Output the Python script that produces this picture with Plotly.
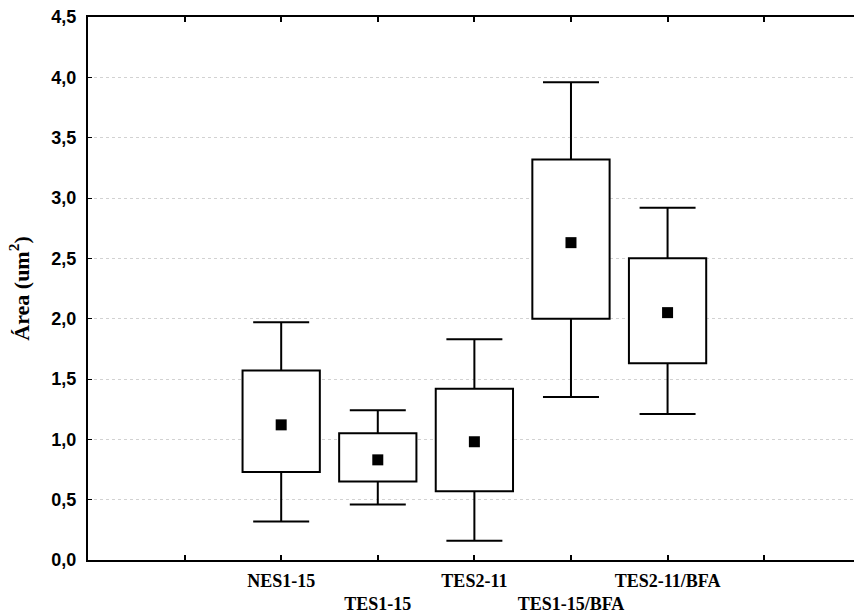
import plotly.graph_objects as go

categories = ["NES1-15", "TES1-15", "TES2-11", "TES1-15/BFA", "TES2-11/BFA"]
means = [1.12, 0.83, 0.98, 2.63, 2.05]
box_low = [0.73, 0.65, 0.57, 2.00, 1.63]
box_high = [1.57, 1.05, 1.42, 3.32, 2.50]
whisk_low = [0.32, 0.46, 0.16, 1.35, 1.21]
whisk_high = [1.97, 1.24, 1.83, 3.96, 2.92]
y_ticks = [0, 0.5, 1.0, 1.5, 2.0, 2.5, 3.0, 3.5, 4.0, 4.5]

xpos = list(range(1, len(categories) + 1))
box_h = [h - l for h, l in zip(box_high, box_low)]
up_len = [w - m for w, m in zip(whisk_high, means)]
dn_len = [m - w for m, w in zip(means, whisk_low)]

X_RANGE = [-1, 6.93]
Y_RANGE = [0, 4.5]

fig = go.Figure()
# whiskers (bottom layer, centre part hidden by the boxes)
fig.add_trace(go.Scatter(
    x=xpos, y=means, mode="markers",
    marker=dict(size=1, opacity=0),
    error_y=dict(type="data", symmetric=False, array=up_len, arrayminus=dn_len,
                 color="black", thickness=2, width=28),
    showlegend=False, hoverinfo="skip",
))
# boxes (overlay axes, drawn above whiskers)
fig.add_trace(go.Bar(
    x=xpos, y=box_h, base=box_low, width=0.8,
    marker=dict(color="white", line=dict(color="black", width=2)),
    xaxis="x2", yaxis="y2",
    showlegend=False, hoverinfo="skip",
))
# means
fig.add_trace(go.Scatter(
    x=xpos, y=means, mode="markers",
    marker=dict(symbol="square", size=11, color="black", line=dict(width=0)),
    xaxis="x2", yaxis="y2",
    showlegend=False, hoverinfo="skip",
))

tickvals = [0] + xpos + [len(categories) + 1]
ticktext = [""] + [c if i % 2 == 0 else "<br>" + c for i, c in enumerate(categories)] + [""]

fig.update_layout(
    width=854, height=614,
    margin=dict(l=88, r=0, t=17, b=54),
    paper_bgcolor="white", plot_bgcolor="white",
    separators=",.",
    xaxis=dict(
        range=X_RANGE, tickmode="array", tickvals=tickvals, ticktext=ticktext,
        tickangle=0, automargin=False,
        ticks="inside", ticklen=5, tickwidth=2, tickcolor="black",
        showline=True, linewidth=2, linecolor="black", mirror="ticks",
        showgrid=False, zeroline=False,
        tickfont=dict(family="Liberation Serif", size=18, color="black", weight="bold"),
        ticklabelstandoff=3,
    ),
    yaxis=dict(
        range=Y_RANGE, tickmode="array", tickvals=y_ticks, tickformat=".1f",
        automargin=False,
        ticks="inside", ticklen=4, tickwidth=1, tickcolor="black",
        showline=True, linewidth=2, linecolor="black",
        showgrid=True, gridcolor="#d2d2d2", gridwidth=1, griddash="dot",
        zeroline=False,
        tickfont=dict(family="Liberation Sans", size=18, color="black", weight="bold"),
        ticklabelstandoff=6,
        title=dict(text="Área (um<sup>2</sup>)", standoff=16,
                   font=dict(family="Liberation Serif", size=22, color="black", weight="bold")),
    ),
    xaxis2=dict(range=X_RANGE, overlaying="x", visible=False, automargin=False),
    yaxis2=dict(range=Y_RANGE, overlaying="y", visible=False, automargin=False),
)

fig.write_html("out.html")
